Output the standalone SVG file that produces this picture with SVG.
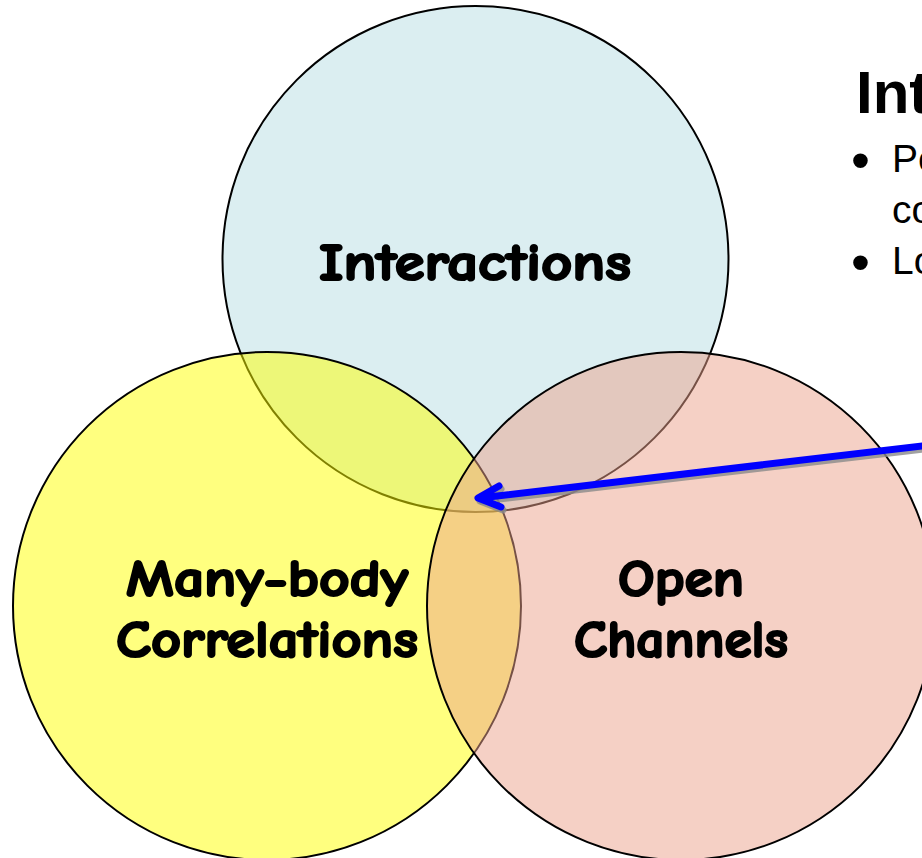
<svg xmlns="http://www.w3.org/2000/svg" width="922" height="858" viewBox="0 0 922 858">
  <style>
    .ring { stroke: #000; stroke-width: 2; }
    .label { font-family: "Comic Sans MS", "Comic Neue", "DejaVu Sans", sans-serif; font-weight: bold; font-size: 53px; fill: #000; stroke: #000; stroke-width: 2.2; stroke-linejoin: round; text-anchor: middle; }
    .side { font-family: "Liberation Sans", Arial, sans-serif; fill: #000; }
    .bullet { font-family: "Liberation Sans", Arial, sans-serif; fill: #000; font-size: 54px; }
    .arrow { fill: none; stroke-linecap: round; stroke-linejoin: round; stroke-width: 7; }
  </style>
  <rect width="922" height="858" fill="#fff"/>

  <!-- Venn circles: translucent fills, opaque outlines -->
  <g id="interactions">
    <circle class="ring" cx="475.5" cy="259" r="253" fill="#dbeef1"/>
    <text class="label" x="475" y="280" textLength="312" lengthAdjust="spacingAndGlyphs">Interactions</text>
  </g>
  <g id="correlations">
    <circle class="ring" cx="267" cy="606" r="254" fill="#ffff00" fill-opacity="0.5"/>
    <text class="label" x="267" y="596" textLength="282" lengthAdjust="spacingAndGlyphs">Many-body</text>
    <text class="label" x="267" y="657" textLength="302" lengthAdjust="spacingAndGlyphs">Correlations</text>
  </g>
  <g id="open-channels">
    <circle class="ring" cx="681" cy="606" r="254" fill="#eba18b" fill-opacity="0.5"/>
    <text class="label" x="681" y="596" textLength="126" lengthAdjust="spacingAndGlyphs">Open</text>
    <text class="label" x="681" y="657" textLength="214" lengthAdjust="spacingAndGlyphs">Channels</text>
  </g>

  <!-- Side heading and bullets -->
  <g id="notes">
    <text class="side" x="856" y="113" font-size="60" font-weight="bold">Int</text>
    <text class="bullet" x="851" y="179">•</text>
    <text class="side" x="892" y="172" font-size="39">Pe</text>
    <text class="side" x="892" y="223" font-size="39">co</text>
    <text class="bullet" x="851" y="281">•</text>
    <text class="side" x="892" y="274" font-size="39">Lo</text>
  </g>

  <!-- Pointer into the central overlap -->
  <g id="connectors">
    <g transform="translate(2,3)" stroke="#8a8a8a" stroke-opacity="0.8">
      <path class="arrow" d="M 935 444.5 L 480 498"/>
      <path class="arrow" d="M 499 486 L 478 498 L 501 507"/>
    </g>
    <g stroke="#0000ff">
      <path class="arrow" d="M 935 444.5 L 480 498"/>
      <path class="arrow" d="M 499 486 L 478 498 L 501 507"/>
    </g>
  </g>
</svg>
